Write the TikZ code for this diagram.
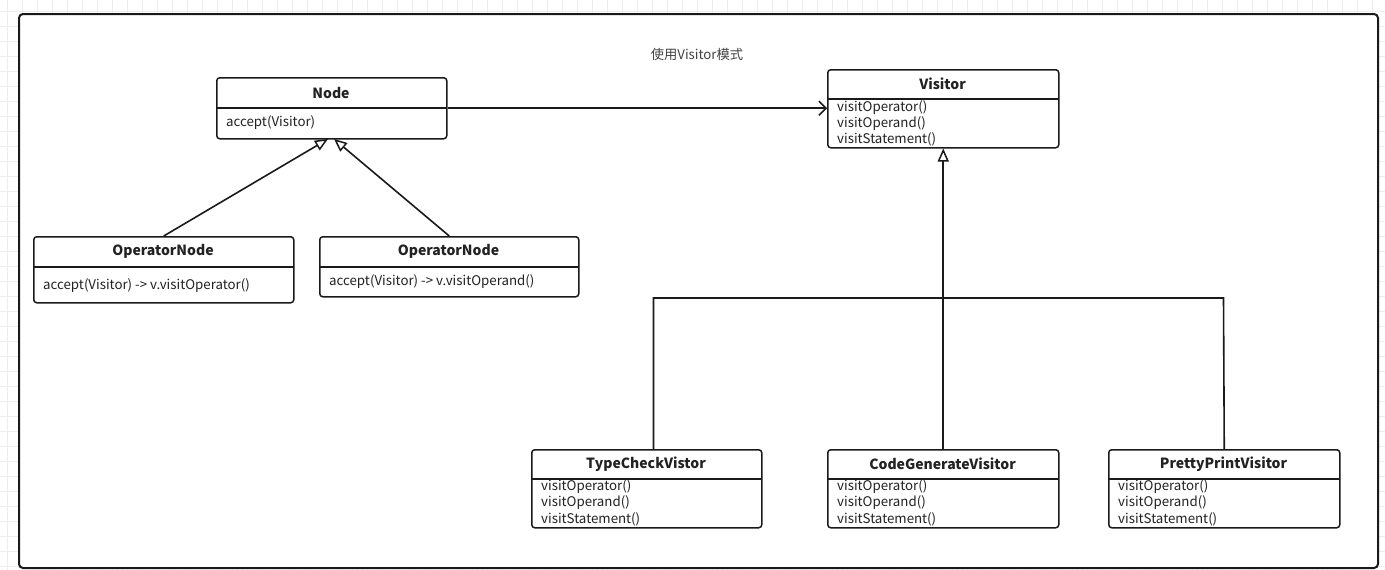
\documentclass[tikz,border=0pt]{standalone}
\usepackage{fontspec}
\setmainfont{Noto Sans CJK SC}
\usetikzlibrary{arrows.meta}
\definecolor{gridc}{HTML}{EDEDED}
\definecolor{framec}{HTML}{1A1A1A}
\definecolor{txt}{HTML}{222222}
\tikzset{
  classbox/.style={draw=framec, line width=1.5pt, rounded corners=3pt, anchor=north west, inner sep=0pt, fill=white},
  ctitle/.style={font=\bfseries\fontsize{14}{16}\selectfont, text=txt, inner sep=0pt},
  cline/.style={font=\fontsize{13.3}{15}\selectfont, text=txt, inner sep=0pt, anchor=west},
  sepline/.style={draw=framec, line width=1.5pt},
  conn/.style={draw=framec, line width=1.6pt},
  inherit/.style={conn, -{Triangle[open, length=13pt, width=11pt, line width=1.5pt]}},
  assoc/.style={conn, -{Straight Barb[length=7pt, width=14pt, line width=1.5pt]}}
}
\begin{document}
\begin{tikzpicture}[x=1pt, y=-1pt]
\useasboundingbox (0,0) rectangle (1385,570);
% grid background
\foreach \gx in {7.3,22.3,...,1385} { \draw[gridc, line width=0.8pt] (\gx,0) -- (\gx,570); }
\foreach \gy in {11.7,26.7,...,570} { \draw[gridc, line width=0.8pt] (0,\gy) -- (1385,\gy); }
% frame
\node[draw=framec, line width=2pt, rounded corners=4pt, fill=white, anchor=north west, inner sep=0pt, minimum width=1359pt, minimum height=554pt] (frame) at (18,13) {};
% title
\node[font=\fontsize{13.3}{15}\selectfont, text=txt!85, inner sep=0pt] (title) at (697,54) {使用Visitor模式};

% Node class
\node[classbox, minimum width=230pt, minimum height=61pt] (node) at (216,77) {};
\draw[sepline] (216,108) -- (446,108);
\node[ctitle] (nodeT) at (331,93) {Node};
\node[cline] (nodeM) at (226,123) {accept(Visitor)};

% Visitor class
\node[classbox, minimum width=231pt, minimum height=78pt] (vis) at (827,69) {};
\draw[sepline] (827,99) -- (1058,99);
\node[ctitle] (visT) at (942.5,84) {Visitor};
\node[cline] (visA) at (837,108) {visitOperator()};
\node[cline] (visB) at (837,123.5) {visitOperand()};
\node[cline] (visC) at (837,139) {visitStatement()};

% OperatorNode 1
\node[classbox, minimum width=260pt, minimum height=66pt] (on1) at (33,236) {};
\draw[sepline] (33,267) -- (293,267);
\node[ctitle] (on1T) at (163,251) {OperatorNode};
\node[cline] (on1M) at (43,286) {accept(Visitor) -> v.visitOperator()};

% OperatorNode 2
\node[classbox, minimum width=259pt, minimum height=60pt] (on2) at (319,236) {};
\draw[sepline] (319,267) -- (578,267);
\node[ctitle] (on2T) at (448.5,251) {OperatorNode};
\node[cline] (on2M) at (329,281.5) {accept(Visitor) -> v.visitOperand()};

% TypeCheckVistor
\node[classbox, minimum width=230pt, minimum height=78pt] (tc) at (531,449) {};
\draw[sepline] (531,479) -- (761,479);
\node[ctitle] (tcT) at (646,464) {TypeCheckVistor};
\node[cline] (tcA) at (541,487) {visitOperator()};
\node[cline] (tcB) at (541,503) {visitOperand()};
\node[cline] (tcC) at (541,519) {visitStatement()};

% CodeGenerateVisitor
\node[classbox, minimum width=231pt, minimum height=78pt] (cg) at (827,449) {};
\draw[sepline] (827,479) -- (1058,479);
\node[ctitle] (cgT) at (942.5,464) {CodeGenerateVisitor};
\node[cline] (cgA) at (837,487) {visitOperator()};
\node[cline] (cgB) at (837,503) {visitOperand()};
\node[cline] (cgC) at (837,519) {visitStatement()};

% PrettyPrintVisitor
\node[classbox, minimum width=231pt, minimum height=78pt] (pp) at (1108,449) {};
\draw[sepline] (1108,479) -- (1339,479);
\node[ctitle] (ppT) at (1223.5,464) {PrettyPrintVisitor};
\node[cline] (ppA) at (1118,487) {visitOperator()};
\node[cline] (ppB) at (1118,503) {visitOperand()};
\node[cline] (ppC) at (1118,519) {visitStatement()};

% connectors
\coordinate (ntipL) at (328,139);
\coordinate (ntipR) at (334,139);
\coordinate (tctop) at (653.5,449);
\coordinate (bus) at (1223.5,298);
\draw[inherit] (on1.north) -- (ntipL);
\draw[inherit] (on2.north) -- (ntipR);
\draw[assoc] (node.east) -- (node.east -| vis.west);
\draw[conn] (tctop) |- (bus) -- (pp.north);
\draw[inherit] (cg.north) -- (vis.south);
\end{tikzpicture}
\end{document}
